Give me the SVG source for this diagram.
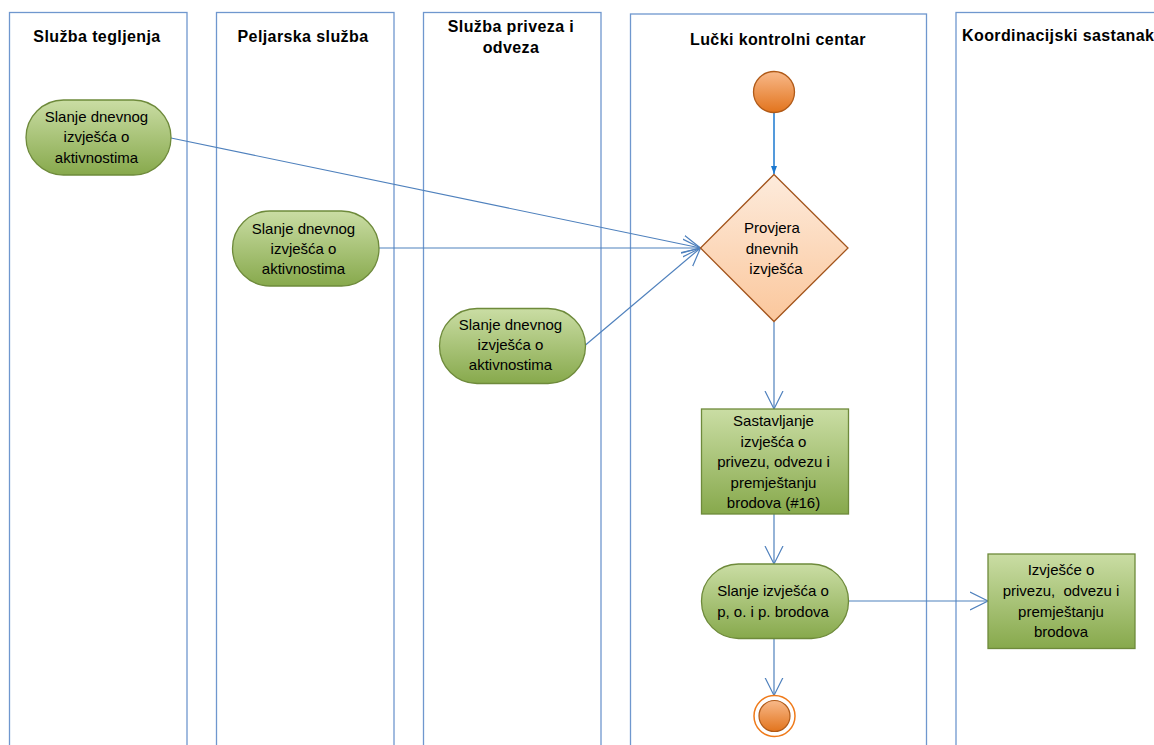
<svg xmlns="http://www.w3.org/2000/svg" width="1154" height="745" viewBox="0 0 1154 745">
<defs>
<linearGradient id="gGreen" x1="0" y1="0" x2="0" y2="1">
<stop offset="0" stop-color="#cadda4"/>
<stop offset="1" stop-color="#87a94c"/>
</linearGradient>
<linearGradient id="gDiamond" x1="0" y1="0" x2="0" y2="1">
<stop offset="0" stop-color="#fdebdc"/>
<stop offset="1" stop-color="#fbc79c"/>
</linearGradient>
<linearGradient id="gOrange" x1="0" y1="0" x2="0" y2="1">
<stop offset="0" stop-color="#f8b98a"/>
<stop offset="1" stop-color="#e2741d"/>
</linearGradient>
<marker id="open" viewBox="0 0 20 20" refX="18" refY="10" markerWidth="20" markerHeight="20" markerUnits="userSpaceOnUse" orient="auto">
<path d="M0,1 L18,10 L0,19" fill="none" stroke="#4f81bd" stroke-width="1.2"/>
</marker>
<marker id="solid" viewBox="0 0 8 8" refX="8" refY="4" markerWidth="8" markerHeight="8" markerUnits="userSpaceOnUse" orient="auto">
<path d="M0,1 L8,4 L0,7 Z" fill="#1b78cf"/>
</marker>
</defs>
<style>
.lane{fill:#fff;stroke:#6f97ce;stroke-width:1.3}
.title{font-family:"Liberation Sans",Arial,sans-serif;font-weight:bold;font-size:16px;letter-spacing:0.4px;fill:#000;text-anchor:middle}
.act{fill:url(#gGreen);stroke:#6e8a3b;stroke-width:1.3}
.txt{font-family:"Liberation Sans",Arial,sans-serif;font-size:15px;fill:#000;text-anchor:middle}
.con{fill:none;stroke:#4f81bd;stroke-width:1.2}
</style>
<rect width="1154" height="745" fill="#fff"/>
<g id="lanes">
<g id="lane-tegljenje">
<rect class="lane" x="9.5" y="12.5" width="177.5" height="760"/>
<text class="title" x="97" y="42">Služba tegljenja</text>
</g>
<g id="lane-peljarska">
<rect class="lane" x="216.5" y="12.5" width="177.5" height="760"/>
<text class="title" x="303" y="42">Peljarska služba</text>
</g>
<g id="lane-privez">
<rect class="lane" x="423.5" y="12.5" width="177.5" height="760"/>
<text class="title" x="511" y="32">Služba priveza i</text>
<text class="title" x="511" y="52.5">odveza</text>
</g>
<g id="lane-lkc">
<rect class="lane" x="630.5" y="14" width="296" height="760"/>
<text class="title" x="778" y="44.5">Lučki kontrolni centar</text>
</g>
<g id="lane-koord">
<rect class="lane" x="956" y="12.5" width="260" height="760"/>
<text class="title" x="962" y="41" style="text-anchor:start">Koordinacijski sastanak</text>
</g>
</g>
<g id="connectors">
<line class="con" x1="774" y1="113" x2="774" y2="174" style="stroke:#1b78cf;stroke-width:1.5" marker-end="url(#solid)"/>
<line class="con" x1="171" y1="138" x2="700.5" y2="248" marker-end="url(#open)"/>
<line class="con" x1="379" y1="248" x2="700.5" y2="248" marker-end="url(#open)"/>
<line class="con" x1="585.5" y1="345" x2="700.5" y2="248" marker-end="url(#open)"/>
<line class="con" x1="774" y1="322" x2="774" y2="409" marker-end="url(#open)"/>
<line class="con" x1="774" y1="514" x2="774" y2="564" marker-end="url(#open)"/>
<line class="con" x1="848.5" y1="601" x2="988" y2="601" marker-end="url(#open)"/>
<line class="con" x1="774" y1="638.5" x2="774" y2="695.5" marker-end="url(#open)"/>
</g>
<g id="start">
<circle cx="774" cy="92" r="20.5" fill="url(#gOrange)" stroke="#b05a18" stroke-width="1.3"/>
</g>
<g id="act-tegljenje">
<rect class="act" x="26" y="100" width="145" height="75" rx="37.5"/>
<text class="txt" x="96.5" y="122">Slanje dnevnog</text>
<text class="txt" x="96.5" y="142">izvješća o</text>
<text class="txt" x="96.5" y="162.5">aktivnostima</text>
</g>
<g id="act-peljarska">
<rect class="act" x="232.5" y="211" width="146.5" height="75" rx="37.5"/>
<text class="txt" x="303.5" y="233.5">Slanje dnevnog</text>
<text class="txt" x="303.5" y="253.5">izvješća o</text>
<text class="txt" x="303.5" y="273.5">aktivnostima</text>
</g>
<g id="act-privez">
<rect class="act" x="439.5" y="308.5" width="146" height="75" rx="37.5"/>
<text class="txt" x="510.5" y="330">Slanje dnevnog</text>
<text class="txt" x="510.5" y="350">izvješća o</text>
<text class="txt" x="510.5" y="370">aktivnostima</text>
</g>
<g id="provjera">
<polygon points="774,174.5 848,248 774,321.5 700.5,248" fill="url(#gDiamond)" stroke="#a3551d" stroke-width="1.3"/>
<text class="txt" x="772" y="233">Provjera</text>
<text class="txt" x="772" y="253.5">dnevnih</text>
<text class="txt" x="776" y="274">izvješća</text>
</g>
<g id="sastavljanje">
<rect class="act" x="701.5" y="409" width="147" height="105"/>
<text class="txt" x="773.5" y="426">Sastavljanje</text>
<text class="txt" x="773.5" y="446.5">izvješća o</text>
<text class="txt" x="773.5" y="467">privezu, odvezu i</text>
<text class="txt" x="773.5" y="487.5">premještanju</text>
<text class="txt" x="773.5" y="508">brodova (#16)</text>
</g>
<g id="slanje-izvjesca">
<rect class="act" x="701.5" y="564" width="147" height="74.5" rx="37"/>
<text class="txt" x="773" y="596">Slanje izvješća o</text>
<text class="txt" x="773" y="616.5">p, o. i p. brodova</text>
</g>
<g id="izvjesce">
<rect class="act" x="988" y="554" width="147" height="94.5"/>
<text class="txt" x="1061" y="575">Izvješće o</text>
<text class="txt" x="1061" y="596" xml:space="preserve">privezu,  odvezu i</text>
<text class="txt" x="1061" y="616.5">premještanju</text>
<text class="txt" x="1061" y="637">brodova</text>
</g>
<g id="end">
<circle cx="774.5" cy="716" r="20.5" fill="#fff" stroke="#ef7a1a" stroke-width="1.5"/>
<circle cx="774.5" cy="716" r="15.5" fill="url(#gOrange)" stroke="#b05a18" stroke-width="1.2"/>
</g>
</svg>
